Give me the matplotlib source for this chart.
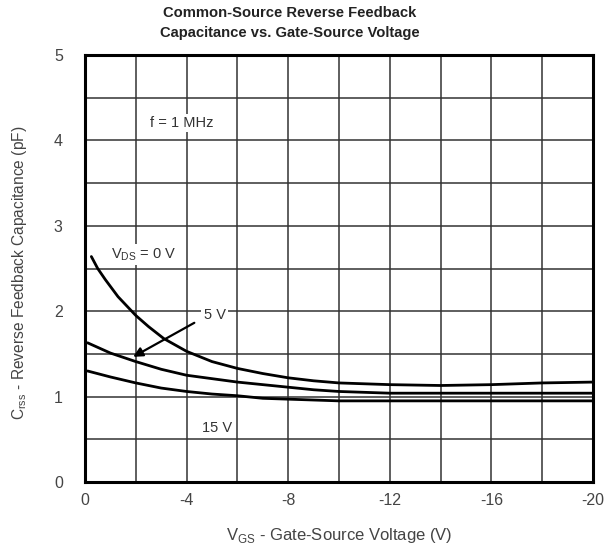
import matplotlib
matplotlib.use("Agg")
import matplotlib.pyplot as plt
import numpy as np

plt.rcParams['font.family'] = ['Liberation Sans', 'DejaVu Sans']

# Data (VGS in volts, Crss in pF)
vgs_0 = [-0.25, -0.5, -0.8, -1.3, -2, -2.5, -3.1, -4, -5, -6, -7, -8, -9, -10, -12, -14, -16, -18, -20]
c_vds0 = [2.64, 2.50, 2.37, 2.17, 1.95, 1.82, 1.68, 1.53, 1.41, 1.33, 1.27, 1.22, 1.185, 1.16, 1.14, 1.13, 1.14, 1.16, 1.17]

vgs_5 = [-0.1, -1, -2, -3, -4, -5, -6, -7, -8, -9, -10, -11, -12, -14, -16, -18, -20]
c_vds5 = [1.63, 1.51, 1.41, 1.32, 1.25, 1.21, 1.17, 1.14, 1.11, 1.08, 1.06, 1.05, 1.04, 1.04, 1.04, 1.04, 1.04]

vgs_15 = [-0.1, -1, -2, -3, -4, -5, -6, -7, -8, -9, -10, -12, -14, -16, -18, -20]
c_vds15 = [1.30, 1.23, 1.16, 1.10, 1.06, 1.03, 1.01, 0.98, 0.97, 0.96, 0.95, 0.95, 0.95, 0.95, 0.95, 0.95]

xticks = [0, -4, -8, -12, -16, -20]
yticks = [0, 1, 2, 3, 4, 5]

fig = plt.figure(figsize=(6.05, 5.52), dpi=100)
ax = fig.add_axes([85/605, 1 - 482/552, (593 - 85)/605, (482 - 55)/552])

ax.set_xlim(0, -20)
ax.set_ylim(0, 5)

# grid
for gx in np.arange(-2, -20, -2):
    ax.axvline(gx, color='#333333', lw=1.1, zorder=1)
for gy in np.arange(0.5, 5, 0.5):
    ax.axhline(gy, color='#333333', lw=1.1, zorder=1)

for xs, c in ((vgs_0, c_vds0), (vgs_5, c_vds5), (vgs_15, c_vds15)):
    ax.plot(xs, c, color='black', lw=2.0, zorder=3, solid_capstyle='round', solid_joinstyle='round')

ax.set_xticks(xticks)
ax.set_xticklabels([str(t) for t in xticks])
ax.set_yticks(yticks)
ax.tick_params(axis='both', length=0, labelsize=11.5, labelcolor='#444444')
ax.tick_params(axis='x', pad=8)
ax.tick_params(axis='y', pad=16)
for s in ax.spines.values():
    s.set_linewidth(2.2)
    s.set_color('black')

box = dict(facecolor='white', edgecolor='none', pad=1.5)
ax.text(-3.8, 4.2, 'f = 1 MHz', fontsize=10.5, color='#333333', ha='center', va='center', bbox=box, zorder=4)
ax.text(-2.3, 2.66, r'V$_{\mathregular{DS}}$ = 0 V', fontsize=10.5, color='#333333', ha='center', va='center', bbox=box, zorder=4)
ax.text(-5.1, 1.96, '5 V', fontsize=10.5, color='#333333', ha='center', va='center', bbox=box, zorder=4)
ax.text(-5.2, 0.63, '15 V', fontsize=10.5, color='#333333', ha='center', va='center', bbox=box, zorder=4)
ax.annotate('', xy=(-1.8, 1.45), xytext=(-4.4, 1.88),
            arrowprops=dict(arrowstyle='-|>', color='black', lw=1.6, mutation_scale=14), zorder=4)

ax.set_xlabel(r'V$_{\mathregular{GS}}$ - Gate-Source Voltage (V)', fontsize=12, color='#444444', labelpad=13)
fig.text(20/605, 1 - 273/552, r'C$_{\mathregular{rss}}$ - Reverse Feedback Capacitance (pF)',
         rotation=90, fontsize=11.2, color='#444444', ha='center', va='center')

fig.text(290/605, 1 - 13/552, 'Common-Source Reverse Feedback', fontsize=10.6, fontweight='bold',
         ha='center', va='center', color='#222222')
fig.text(290/605, 1 - 33/552, 'Capacitance vs. Gate-Source Voltage', fontsize=10.6, fontweight='bold',
         ha='center', va='center', color='#222222')

fig.savefig('out.png', dpi=100)
